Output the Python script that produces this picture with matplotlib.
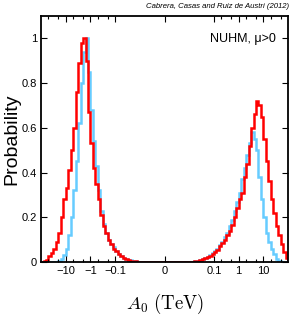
import numpy as np
import matplotlib
matplotlib.use('Agg')
import matplotlib.pyplot as plt
from matplotlib.ticker import FixedLocator, FixedFormatter

# posterior of A0 in 100 bins, uniform in t = sign(A)*log10(1 + |A|/1 GeV), t in [-5, 5]
red = [0.0, 0.005, 0.01, 0.025, 0.04, 0.06, 0.09, 0.13, 0.2, 0.28,
       0.33, 0.41, 0.5, 0.6, 0.76, 0.89, 0.98, 1.0, 0.9, 0.67,
       0.53, 0.42, 0.35, 0.28, 0.21, 0.16, 0.13, 0.10, 0.08, 0.06,
       0.05, 0.035, 0.025, 0.018, 0.012, 0.008, 0.005, 0.004, 0.003, 0.002,
       0.0015, 0.001, 0.001, 0.0008, 0.0006, 0.0005, 0.0004, 0.0003, 0.0003, 0.0002,
       0.0002, 0.0003, 0.0003, 0.0004, 0.0005, 0.0006, 0.0008, 0.001, 0.001, 0.001,
       0.001, 0.002, 0.003, 0.005, 0.008, 0.012, 0.017, 0.022, 0.028, 0.036,
       0.045, 0.055, 0.07, 0.085, 0.10, 0.12, 0.14, 0.165, 0.2, 0.24,
       0.28, 0.31, 0.38, 0.44, 0.52, 0.6, 0.66, 0.72, 0.70, 0.65,
       0.55, 0.45, 0.36, 0.28, 0.22, 0.16, 0.12, 0.08, 0.045, 0.02]

blue = [0.0, 0.0, 0.0, 0.0, 0.0, 0.0, 0.0, 0.005, 0.015, 0.03,
        0.06, 0.12, 0.2, 0.32, 0.45, 0.62, 0.8, 0.94, 1.0, 0.85,
        0.68, 0.54, 0.43, 0.32, 0.23, 0.17, 0.13, 0.10, 0.08, 0.065,
        0.05, 0.038, 0.028, 0.02, 0.014, 0.01, 0.007, 0.005, 0.003, 0.002,
        0.0015, 0.001, 0.001, 0.0008, 0.0006, 0.0005, 0.0004, 0.0003, 0.0003, 0.0002,
        0.0002, 0.0003, 0.0003, 0.0004, 0.0005, 0.0006, 0.0008, 0.001, 0.001, 0.001,
        0.001, 0.002, 0.003, 0.005, 0.008, 0.012, 0.018, 0.024, 0.03, 0.04,
        0.05, 0.06, 0.075, 0.09, 0.11, 0.13, 0.16, 0.19, 0.23, 0.27,
        0.31, 0.37, 0.42, 0.48, 0.53, 0.58, 0.55, 0.5, 0.38, 0.28,
        0.2, 0.13, 0.09, 0.06, 0.035, 0.015, 0.006, 0.002, 0.0, 0.0]

major_ticks = [-10, -1, -0.1, 0, 0.1, 1, 10]
major_labels = ['\u221210', '\u22121', '\u22120.1', '0', '0.1', '1', '10']

GEV = 1e-3


def fwd(x):
    x = np.asarray(x, dtype=float)
    return np.sign(x) * np.log10(1 + np.abs(x) / GEV)


def inv(t):
    t = np.asarray(t, dtype=float)
    return np.sign(t) * GEV * (10 ** np.abs(t) - 1)


plt.rcParams['font.family'] = ['Liberation Sans', 'DejaVu Sans']
plt.rcParams['mathtext.fontset'] = 'cm'

fig = plt.figure(figsize=(2.91, 3.18), dpi=100)
ax = fig.add_axes([0.141, 0.176, 0.849, 0.774])
ax.set_xscale('function', functions=(fwd, inv))

edges = inv(np.linspace(-5, 5, len(red) + 1))
ax.stairs(blue, edges, color='#66ccff', lw=1.8)
ax.stairs(red, edges, color='#ff0000', lw=1.8)

ax.set_xlim(inv(-5), inv(5))
ax.set_ylim(0, 1.1)

ax.xaxis.set_major_locator(FixedLocator(major_ticks))
ax.xaxis.set_major_formatter(FixedFormatter(major_labels))
minor = []
for d in [0.1, 1, 10]:
    for s in [2, 5]:
        minor += [s * d, -s * d]
minor += [100, -100]
ax.xaxis.set_minor_locator(FixedLocator(minor))

ax.set_yticks([0, 0.2, 0.4, 0.6, 0.8, 1])
ax.set_yticklabels(['0', '0.2', '0.4', '0.6', '0.8', '1'])

ax.tick_params(which='both', direction='in', top=True, right=True,
               labelsize=8, width=0.8, pad=3)
ax.tick_params(which='major', length=4)
ax.tick_params(which='minor', length=2.5)
for sp in ax.spines.values():
    sp.set_linewidth(1.3)

ax.set_ylabel('Probability', fontsize=14, labelpad=1)
ax.set_xlabel(r'$A_0\ (\mathrm{TeV})$', fontsize=13.5, labelpad=11)

ax.text(0.951, 0.906, 'NUHM, \u03bc>0', transform=ax.transAxes,
        ha='right', va='center', fontsize=9)
fig.text(0.993, 0.978, 'Cabrera, Casas and Ruiz de Austri (2012)',
         ha='right', va='center', fontsize=5.6, style='italic')

fig.savefig('out.png', dpi=100)
